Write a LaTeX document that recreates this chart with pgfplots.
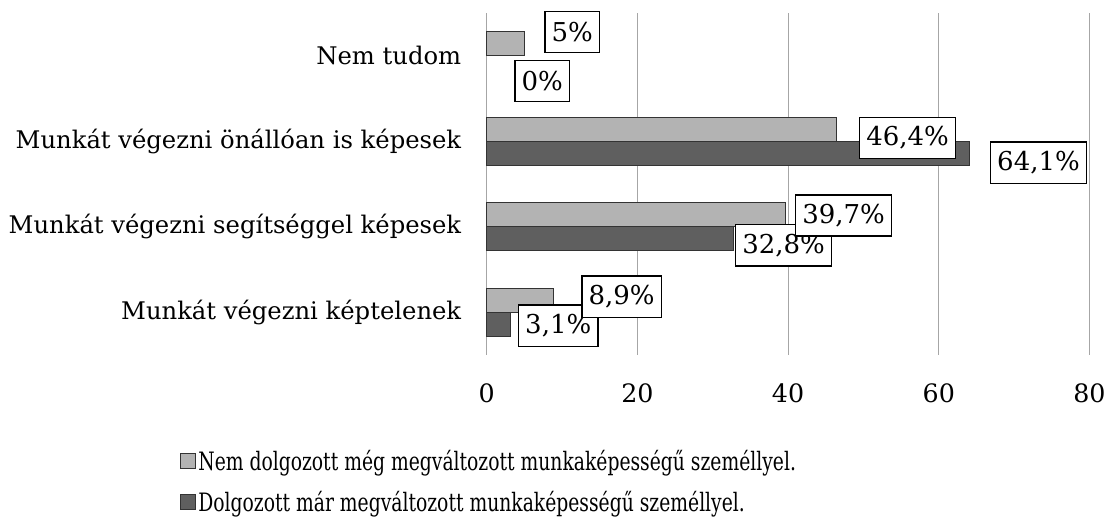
\documentclass[border=0pt]{standalone}
\usepackage{pgfplots}
\pgfplotsset{compat=1.18}
\usepackage{fontspec}
\setmainfont{DejaVu Serif}
\newfontfamily\legfont[FakeStretch=0.74]{DejaVu Serif}
\definecolor{barlight}{HTML}{B3B3B3}
\definecolor{bardark}{HTML}{5F5F5F}
\definecolor{gridc}{HTML}{A6A6A6}

\begin{document}
\begin{tikzpicture}[font=\fontsize{18.2}{21}\selectfont]
\begin{axis}[
  scale only axis, width=452.25pt, height=256.5pt,
  xmin=0, xmax=80, ymin=-0.5, ymax=3.5,
  clip=false,
  /pgf/number format/assume math mode=true,
  axis lines*=left,
  x axis line style={draw=none},
  y axis line style={-, draw=gridc, line width=0.8pt},
  xtick={0,20,40,60,80},
  xtick style={draw=none},
  xticklabel style={yshift=-18pt, font=\fontsize{19}{22}\selectfont},
  ytick={0,1,2,3},
  ytick style={draw=none},
  yticklabels={Munkát végezni képtelenek, Munkát végezni segítséggel képesek, Munkát végezni önállóan is képesek, Nem tudom},
  yticklabel style={anchor=east, inner xsep=0pt, xshift=-19pt},
  extra y ticks={-0.5,0.5,1.5,2.5,3.5},
  extra y tick labels={},
  extra y tick style={major tick length=5pt, tick align=outside, tick style={draw=gridc, line width=0.8pt}},
  xmajorgrids, grid style={gridc, line width=0.8pt},
  legend style={at={(-0.509,-0.27)}, anchor=north west, draw=none, fill=none,
    font=\legfont\fontsize{19}{21}\selectfont, row sep=10pt, inner sep=0pt},
  legend cell align=left,
  nodes near coords style={anchor=center, draw=black, fill=white, line width=1.1pt,
    inner xsep=5pt, minimum height=31pt, font=\fontsize{19.5}{22}\selectfont},
]
\addplot[xbar, bar width=0.2807, bar shift=0.1404, fill=barlight, draw=black!80, line width=0.6pt,
  legend image code/.code={\draw[fill=barlight, draw=black!80, line width=0.6pt] (0pt,-5.5pt) rectangle (11pt,5.5pt);}]
  coordinates {(8.9,0) (39.7,1) (46.4,2) (5,3)};
\addlegendentry{Nem dolgozott még megváltozott munkaképességű személlyel.}
\addplot[xbar, bar width=0.2807, bar shift=-0.1404, fill=bardark, draw=black!80, line width=0.6pt,
  legend image code/.code={\draw[fill=bardark, draw=black!80, line width=0.6pt] (0pt,-5.5pt) rectangle (11pt,5.5pt);}]
  coordinates {(3.1,0) (32.8,1) (64.1,2)};
\addlegendentry{Dolgozott már megváltozott munkaképességű személlyel.}
% data labels (box centres)
\addplot[draw=none, mark=none, forget plot, nodes near coords, point meta=explicit symbolic]
  table[meta=label] {
x y label
9.49 -0.161 3,1\%
39.4 0.781 32,8\%
73.24 1.746 64,1\%
7.36 2.705 0\%
17.9 0.178 8,9\%
47.36 1.131 39,7\%
55.86 2.038 46,4\%
11.34 3.278 5\%
};
\coordinate (sw) at (rel axis cs:0,0);
\end{axis}
\path ([shift={(-365.25pt,-131.25pt)}]sw) rectangle ([shift={(467.25pt,266.25pt)}]sw);
\end{tikzpicture}
\end{document}
